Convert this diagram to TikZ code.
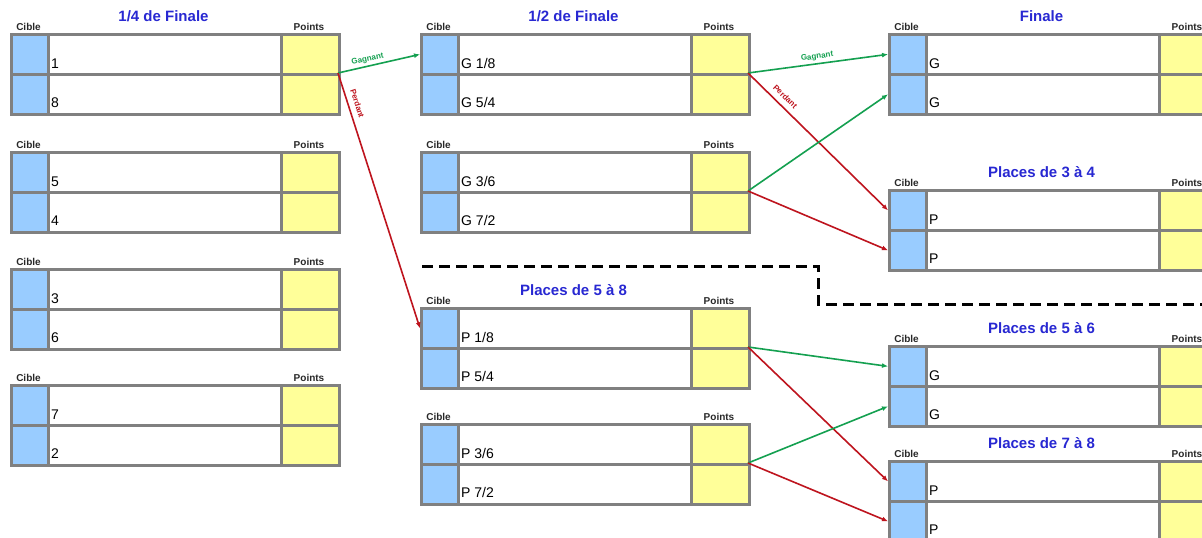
\documentclass[tikz,border=0pt]{standalone}
\usepackage{fontspec}
\setmainfont{Liberation Sans}
\usetikzlibrary{arrows.meta}
\definecolor{frame}{RGB}{128,128,128}
\definecolor{cblue}{RGB}{153,204,255}
\definecolor{cyel}{RGB}{255,255,153}
\definecolor{ttl}{RGB}{40,40,210}
\definecolor{hdrc}{RGB}{40,40,40}
\definecolor{win}{RGB}{20,160,80}
\definecolor{lose}{RGB}{190,20,30}
\tikzset{
  cellbase/.style={draw=frame, line width=2.7pt, anchor=north west, inner sep=0pt, minimum height=40pt},
  bluecell/.style={cellbase, fill=cblue, minimum width=37pt},
  whitecell/.style={cellbase, fill=white, minimum width=233pt},
  yelcell/.style={cellbase, fill=cyel, minimum width=58pt},
  rowtext/.style={anchor=base west, inner sep=0pt, text=black, font=\fontsize{14}{16}\selectfont},
  hdr/.style={anchor=base, inner sep=0pt, text=hdrc, font=\fontsize{10}{12}\selectfont\bfseries},
  titletext/.style={anchor=base, inner sep=0pt, text=ttl, font=\fontsize{15}{18}\selectfont\bfseries},
  winarrow/.style={draw=win, line width=1.6pt, -{Latex[length=6pt,width=5pt]}},
  losearrow/.style={draw=lose, line width=1.6pt, -{Latex[length=6pt,width=5pt]}},
  lbl/.style={inner sep=1.5pt, font=\fontsize{8}{9}\selectfont\bfseries},
  sepline/.style={draw=black, line width=3pt, dash pattern=on 11pt off 6pt}
}
\newcommand\bracketblock[6]{%
  \node[bluecell] (#1b1) at (#2,#3) {};
  \node[bluecell] (#1b2) at (#2,#3+40) {};
  \node[whitecell] (#1w1) at (#2+37,#3) {};
  \node[whitecell] (#1w2) at (#2+37,#3+40) {};
  \node[yelcell] (#1p1) at (#2+270,#3) {};
  \node[yelcell] (#1p2) at (#2+270,#3+40) {};
  \node[rowtext] (#1t1) at (#2+41,#3+35) {#5};
  \node[rowtext] (#1t2) at (#2+41,#3+74) {#6};
  \node[hdr] (#1c) at (#2+18.5,#3-3) {Cible};
  \node[hdr] (#1h) at (#2+299,#3-3) {Points};
  \if\relax\detokenize{#4}\relax\else
    \node[titletext] (#1ti) at (#2+153.5,#3-12) {#4};
  \fi
  \coordinate (#1out) at (#2+328,#3+40);
}
\begin{document}
\begin{tikzpicture}[x=1pt,y=-1pt]
\useasboundingbox (0,0) rectangle (1202,538);
\clip (0,0) rectangle (1202,538);
\fill[white] (0,0) rectangle (1202,538);
% left column
\bracketblock{L1}{10}{33}{1/4 de Finale}{1}{8}
\bracketblock{L2}{10}{151}{}{5}{4}
\bracketblock{L3}{10}{268}{}{3}{6}
\bracketblock{L4}{10}{384}{}{7}{2}
% middle column
\bracketblock{M1}{420}{33}{1/2 de Finale}{G 1/8}{G 5/4}
\bracketblock{M2}{420}{151}{}{G 3/6}{G 7/2}
\bracketblock{M3}{420}{307}{Places de 5 à 8}{P 1/8}{P 5/4}
\bracketblock{M4}{420}{423}{}{P 3/6}{P 7/2}
% right column
\bracketblock{R1}{888}{33}{Finale}{G}{G}
\bracketblock{R2}{888}{189}{Places de 3 à 4}{P}{P}
\bracketblock{R3}{888}{345}{Places de 5 à 6}{G}{G}
\bracketblock{R4}{888}{460}{Places de 7 à 8}{P}{P}
% separator
\coordinate (d1) at (422,266);
\coordinate (d2) at (818,266);
\coordinate (d3) at (818,304);
\coordinate (d4) at (1210,304);
\draw[sepline] (d1) -- (d2) -- (d3) -- (d4);
% connectors
\draw[winarrow] (L1out) -- node[lbl, text=win, above=1pt, sloped, pos=0.38] {Gagnant} (M1b1.west);
\draw[losearrow] (L1out) -- node[lbl, text=lose, above=4pt, sloped, pos=0.13] {Perdant} (M3b1.west);
\draw[winarrow] (M1out) -- node[lbl, text=win, above=1pt, sloped, pos=0.5] {Gagnant} (R1b1.west);
\draw[losearrow] (M1out) -- node[lbl, text=lose, above=4pt, sloped, pos=0.22] {Perdant} (R2b1.west);
\draw[winarrow] (M2out) -- (R1b2.west);
\draw[losearrow] (M2out) -- (R2b2.west);
\draw[winarrow] (M3out) -- (R3b1.west);
\draw[losearrow] (M3out) -- (R4b1.west);
\draw[winarrow] (M4out) -- (R3b2.west);
\draw[losearrow] (M4out) -- (R4b2.west);
\end{tikzpicture}
\end{document}
